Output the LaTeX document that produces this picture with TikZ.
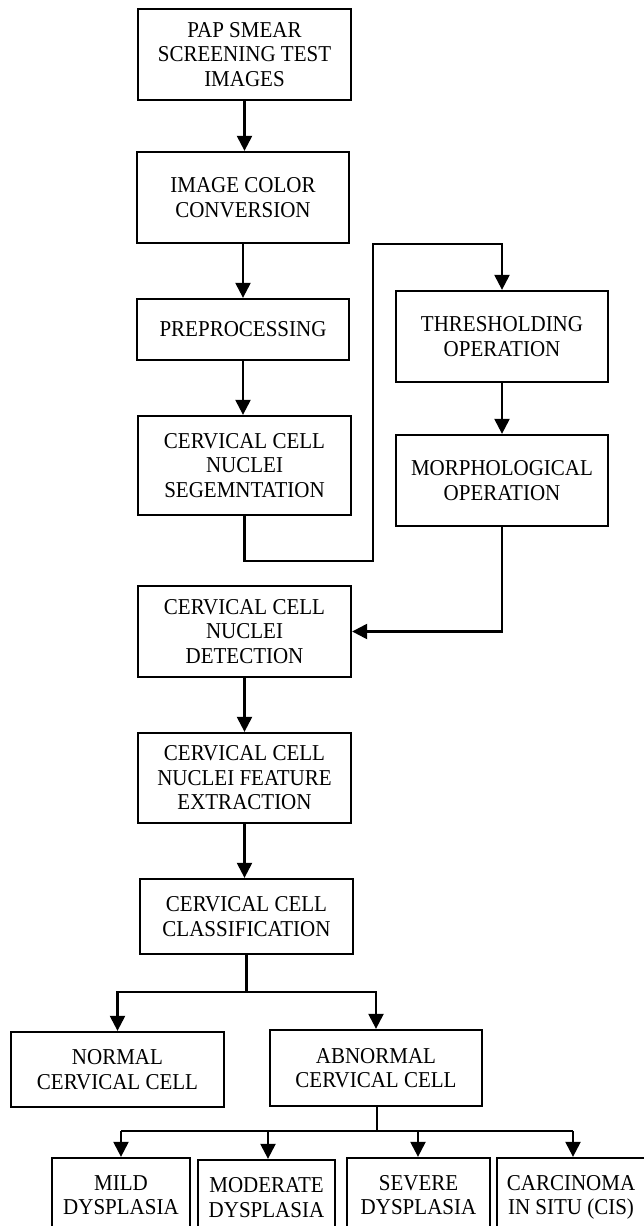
\documentclass[tikz,border=0pt]{standalone}
\usepackage{fontspec}
\setmainfont{Liberation Serif}
\usetikzlibrary{arrows.meta}
\newcommand\tx[1]{\raisebox{-2.5pt}[\height][\depth]{\scalebox{1}[1.08]{\begin{tabular}{@{}c@{}}#1\end{tabular}}}}
\tikzset{
  box/.style={draw, line width=2.3pt, inner sep=0pt, align=center,
    font=\fontsize{21}{22.7}\selectfont},
  conn/.style={line width=2.3pt},
  arr/.style={conn, -{Triangle[width=15pt,length=15pt]}}
}
\begin{document}
\begin{tikzpicture}[x=1pt,y=-1pt]
\useasboundingbox (0,0) rectangle (644,1226);
\node[box, minimum width=213pt, minimum height=91pt] (b1) at (244.5,54.5) {\tx{PAP SMEAR\\SCREENING TEST\\IMAGES}};
\node[box, minimum width=212pt, minimum height=91pt] (b2) at (243,197.5) {\tx{IMAGE COLOR\\CONVERSION}};
\node[box, minimum width=212pt, minimum height=61pt] (b3) at (243,329.5) {\tx{PREPROCESSING}};
\node[box, minimum width=213pt, minimum height=99pt] (b4) at (244.5,465.5) {\tx{CERVICAL CELL\\NUCLEI\\SEGEMNTATION}};
\node[box, minimum width=212pt, minimum height=91pt] (thr) at (502,336.5) {\tx{THRESHOLDING\\OPERATION}};
\node[box, minimum width=212pt, minimum height=91pt] (mor) at (502,480.5) {\tx{MORPHOLOGICAL\\OPERATION}};
\node[box, minimum width=213pt, minimum height=91pt] (det) at (244.5,631.5) {\tx{CERVICAL CELL\\NUCLEI\\DETECTION}};
\node[box, minimum width=213pt, minimum height=90pt] (fea) at (244.5,778) {\tx{CERVICAL CELL\\NUCLEI FEATURE\\EXTRACTION}};
\node[box, minimum width=213pt, minimum height=75pt] (cls) at (246.5,916.5) {\tx{CERVICAL CELL\\CLASSIFICATION}};
\node[box, minimum width=213pt, minimum height=75pt] (nor) at (117.5,1069.5) {\tx{NORMAL\\CERVICAL CELL}};
\node[box, minimum width=212pt, minimum height=76pt] (abn) at (376,1068) {\tx{ABNORMAL\\CERVICAL CELL}};
\node[box, minimum width=138pt, minimum height=74pt] (mild) at (121,1195) {\tx{MILD\\DYSPLASIA}};
\node[box, minimum width=137pt, minimum height=75pt] (mod) at (266.5,1197.5) {\tx{MODERATE\\DYSPLASIA}};
\node[box, minimum width=143pt, minimum height=74pt] (sev) at (418.5,1195) {\tx{SEVERE\\DYSPLASIA}};
\node[box, minimum width=148pt, minimum height=74pt] (car) at (571,1195) {\tx{CARCINOMA\\IN SITU (CIS)}};

\draw[arr] (b1.south) -- (b1.south |- b2.north);
\draw[arr] (b2.south) -- (b2.south |- b3.north);
\draw[arr] (b3.south) -- (b3.south |- b4.north);
\coordinate (lp1) at (373,561);
\coordinate (lp2) at (373,244);
\draw[arr] (b4.south) |- (lp1) -- (lp2) -| (thr.north);
\draw[arr] (thr.south) -- (mor.north);
\draw[arr] (mor.south) |- (det.east);
\draw[arr] (det.south) -- (det.south |- fea.north);
\draw[arr] (fea.south) -- (fea.south |- cls.north);
\coordinate (br1) at (246.5,992);
\draw[conn] (cls.south) -- (br1);
\draw[arr] (br1) -| (nor.north);
\draw[arr] (br1) -| (abn.north);
\coordinate (br2) at (377,1131);
\coordinate (t1) at (121,1131);
\coordinate (t2) at (268,1131);
\coordinate (t3) at (418,1131);
\coordinate (t4) at (573,1131);
\draw[conn] (abn.south -| br2) -- (br2);
\draw[conn] (t1) -- (t4);
\draw[arr] (t1) -- (t1 |- mild.north);
\draw[arr] (t2) -- (t2 |- mod.north);
\draw[arr] (t3) -- (t3 |- sev.north);
\draw[arr] (t4) -- (t4 |- car.north);
\end{tikzpicture}
\end{document}
